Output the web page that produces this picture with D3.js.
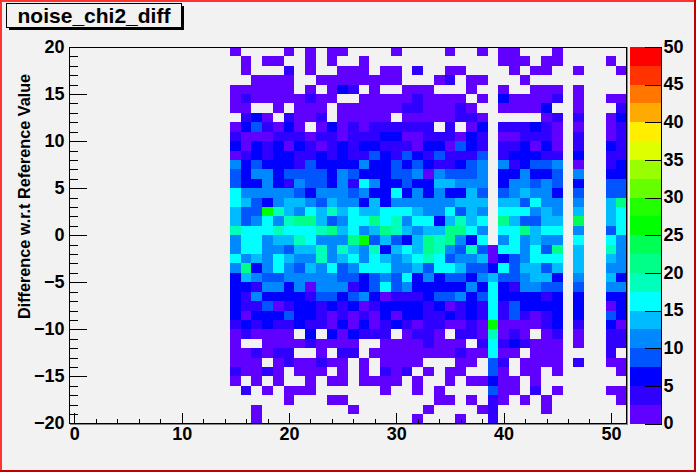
<!DOCTYPE html>
<html><head><meta charset="utf-8">
<script src="https://cdn.jsdelivr.net/npm/d3@7/dist/d3.min.js"></script>
<style>
html,body{margin:0;padding:0;background:#f2f2f2;overflow:hidden}
text{font-family:"Liberation Sans",Arial,sans-serif;font-weight:bold;fill:#000}
</style></head><body><svg id="c" width="696" height="472"></svg>
<script>
const chartTitle = "noise_chi2_diff";
const yTitle = "Difference w.r.t Reference Value";
const xTickLabels = [0,10,20,30,40,50];
const yTickLabels = [-20,-15,-10,-5,0,5,10,15,20];
const zTickLabels = [0,5,10,15,20,25,30,35,40,45,50];
const firstColumn = 15;
const palette = ["#6000ff","#3000ff","#0000ff","#0055ff","#0088ff","#00bbff","#00ffff","#00ffbb","#00ff88","#00ff55","#00ff00","#22ff00","#66ff00","#99ff00","#ddff00","#ffee00","#ffaa00","#ff7700","#ff3300","#ff0000"];
// Bin contents, one array per y bin (top row first), columns 15..51; 0 = empty
const row00=[1,0,0,0,0,1,0,1,0,1,1,0,0,0,0,1,0,0,0,0,1,0,0,1,0,1,1,0,0,0,1,0,0,0,0,0,0];
const row01=[0,1,0,1,1,0,0,1,0,1,0,0,1,0,0,0,0,0,0,0,0,0,0,0,0,1,1,1,0,1,1,0,0,0,0,1,0];
const row02=[0,1,0,0,0,3,0,1,0,0,1,1,1,0,1,1,0,3,0,0,1,1,0,0,0,0,1,0,1,1,0,0,1,0,0,0,1];
const row03=[0,0,1,1,1,1,0,0,1,1,1,1,1,1,1,1,0,0,0,1,3,0,1,1,0,0,0,1,0,0,0,0,0,0,0,0,0];
const row04=[1,1,1,1,1,1,0,1,0,1,6,3,0,1,0,0,1,1,1,0,0,0,1,0,0,1,0,0,1,1,1,0,1,0,0,0,0];
const row05=[1,3,1,1,1,1,1,3,1,1,0,0,1,1,1,1,1,3,1,1,1,1,0,1,0,6,1,1,1,1,3,0,1,0,0,1,1];
const row06=[1,1,0,0,1,0,1,1,1,0,1,1,1,1,1,1,3,3,1,1,1,3,1,0,0,1,1,1,1,6,0,0,1,0,0,0,3];
const row07=[0,3,6,1,0,3,1,1,3,0,1,1,1,1,1,0,1,1,1,1,1,3,3,1,0,0,0,0,0,1,3,0,3,0,0,1,6];
const row08=[1,6,9,3,1,6,1,0,1,6,1,3,1,3,3,3,3,3,3,0,3,0,1,6,0,3,3,3,6,3,1,0,1,0,0,1,3];
const row09=[3,1,1,1,3,3,3,1,3,3,1,3,3,3,6,6,1,1,3,3,3,1,6,3,0,1,1,3,3,3,1,0,3,0,0,1,3];
const row10=[6,1,6,3,6,1,6,3,1,3,6,3,6,6,3,3,3,1,6,6,1,9,6,3,0,3,3,6,1,6,1,0,3,0,0,6,3];
const row11=[1,3,6,3,6,6,3,3,6,3,6,3,3,9,6,3,9,6,3,9,3,3,3,9,0,3,6,6,6,3,3,0,6,0,0,3,3];
const row12=[11,6,9,6,6,6,3,9,6,6,6,6,11,6,6,9,6,9,6,3,3,6,9,11,0,11,3,6,9,9,11,0,1,0,0,3,6];
const row13=[9,6,11,11,6,9,9,9,9,6,11,9,6,6,6,9,9,11,1,11,9,9,9,11,0,6,6,11,6,6,9,0,11,0,0,6,6];
const row14=[9,6,6,11,6,3,11,9,9,6,11,3,16,11,6,6,9,6,6,14,14,11,11,11,0,6,11,11,9,11,9,0,6,0,0,9,9];
const row15=[16,11,11,11,11,11,9,6,11,11,11,9,11,6,6,16,6,11,6,11,6,6,14,9,0,9,11,14,11,11,6,0,9,0,0,9,9];
const row16=[16,14,9,6,11,14,14,11,9,14,11,11,6,14,6,11,11,11,11,11,11,14,14,14,0,14,14,9,16,11,11,0,11,0,0,14,21];
const row17=[14,9,9,26,19,14,11,16,14,19,14,16,14,14,16,16,16,14,11,11,16,9,14,11,0,16,16,16,11,14,11,0,14,0,0,14,16];
const row18=[14,9,11,16,11,19,21,21,14,9,11,16,16,21,16,19,11,16,16,6,14,19,14,16,0,21,14,9,9,14,14,0,24,0,0,14,16];
const row19=[19,16,16,16,19,16,16,16,19,21,14,16,11,14,21,19,14,11,14,14,21,21,16,11,0,16,16,21,14,16,16,0,11,0,0,9,16];
const row20=[11,16,16,11,14,14,19,16,11,11,11,21,26,9,14,9,6,14,21,19,21,11,6,16,0,11,16,11,14,11,11,0,16,0,0,16,11];
const row21=[11,16,16,11,11,9,14,14,19,11,19,14,11,19,6,14,16,14,21,19,11,9,19,9,1,16,16,11,16,9,21,0,14,0,0,19,11];
const row22=[16,11,14,11,16,14,11,11,19,11,14,16,11,16,14,11,14,16,19,16,9,11,11,14,1,6,9,11,16,16,16,0,14,0,0,14,11];
const row23=[11,21,6,11,16,11,9,14,11,16,9,11,16,16,16,11,11,14,9,16,16,14,9,9,6,16,9,14,14,9,14,0,14,0,0,11,11];
const row24=[6,14,11,9,9,11,11,11,11,11,9,9,6,9,11,9,16,6,11,6,9,9,6,11,14,9,9,11,14,14,6,0,11,0,0,14,6];
const row25=[6,6,3,11,11,6,11,1,11,11,11,3,6,9,16,9,11,6,6,6,6,6,11,6,16,6,3,11,11,9,9,0,9,0,0,11,11];
const row26=[6,3,11,6,6,6,6,3,9,9,6,9,11,6,1,3,3,3,6,9,9,11,6,9,16,6,6,6,6,3,6,0,6,0,0,6,6];
const row27=[6,3,3,9,1,3,6,6,3,6,3,6,1,3,6,6,6,6,3,6,1,3,6,3,16,3,9,6,6,6,6,0,6,0,0,1,6];
const row28=[6,1,6,6,6,9,6,6,3,1,3,1,3,1,6,1,6,6,3,3,6,3,6,3,16,3,9,3,1,3,6,0,6,0,0,9,6];
const row29=[3,6,3,6,3,3,6,3,3,1,6,1,6,1,3,6,3,1,3,3,1,1,3,1,26,1,1,1,1,3,6,0,3,0,0,6,1];
const row30=[1,3,1,1,1,1,0,6,0,6,1,6,3,3,3,0,1,3,3,1,0,3,3,1,19,1,3,1,0,1,3,0,1,0,0,3,3];
const row31=[1,0,0,1,1,1,1,3,1,1,1,1,0,0,1,1,1,1,3,1,1,1,0,3,16,3,6,3,1,1,1,0,1,0,0,3,3];
const row32=[1,1,3,1,3,3,0,0,1,0,3,3,0,1,1,1,1,1,1,1,1,3,1,1,16,1,1,0,1,1,1,0,0,0,0,3,0];
const row33=[1,1,1,0,1,3,1,1,3,1,1,0,1,0,1,1,1,1,0,0,0,1,1,0,9,3,0,1,1,1,1,0,3,0,0,1,1];
const row34=[3,1,1,3,1,0,1,1,1,0,1,0,1,0,3,1,3,0,1,0,1,1,0,0,9,1,0,1,1,0,1,0,0,0,0,0,1];
const row35=[1,0,1,0,1,0,0,1,0,1,1,0,1,1,1,1,0,1,0,0,1,0,1,1,6,1,1,0,1,0,0,0,0,0,0,0,0];
const row36=[0,3,0,1,0,1,1,1,0,0,0,0,0,0,1,0,0,1,0,1,0,0,0,0,9,1,1,0,3,0,1,0,0,0,0,1,1];
const row37=[0,0,0,0,0,1,0,0,0,1,1,0,0,0,0,0,0,0,0,1,1,0,1,0,3,1,0,1,0,1,0,0,0,0,0,0,1];
const row38=[0,0,1,0,0,0,0,0,0,0,0,1,0,0,0,0,0,0,1,0,0,0,0,1,3,0,0,0,0,1,0,0,0,0,0,0,0];
const row39=[0,0,1,0,0,0,0,0,0,0,0,0,0,0,0,0,0,1,0,0,0,1,0,0,3,0,0,0,0,0,0,0,0,0,0,0,0];
const rows=[row00,row01,row02,row03,row04,row05,row06,row07,row08,row09,row10,row11,row12,row13,row14,row15,row16,row17,row18,row19,row20,row21,row22,row23,row24,row25,row26,row27,row28,row29,row30,row31,row32,row33,row34,row35,row36,row37,row38,row39];

const W=696,H=472,L=69.5,R=626.5,T=47,B=423.5,zL=629.5,zR=661.5;
const svg=d3.select("#c");
const tickFont=18;
const x=d3.scaleLinear().domain([-0.45,51.45]).range([L,R]);
const y=d3.scaleLinear().domain([-20,20]).range([B,T]);
const z=d3.scaleLinear().domain([0,50]).range([B,T]);
const color=d3.scaleQuantize().domain([0,50]).range(palette);

svg.append("rect").attr("width",W).attr("height",H).attr("fill","#f2f2f2");

// cells
const cells=[];
rows.forEach((r,i)=>r.forEach((v,j)=>{ if(v>0) cells.push({col:firstColumn+j,top:20-i,v}); }));
const px=v=>Math.round(v);
svg.append("g").attr("shape-rendering","crispEdges").selectAll("rect").data(cells).join("rect")
 .attr("x",d=>px(x(d.col-0.5)))
 .attr("width",d=>px(Math.min(x(d.col+0.5),R))-px(x(d.col-0.5)))
 .attr("y",d=>px(y(d.top)))
 .attr("height",d=>px(y(d.top-1))-px(y(d.top)))
 .attr("fill",d=>color(d.v));

// colour bar
const zLevels=d3.range(palette.length);
svg.append("g").attr("shape-rendering","crispEdges").selectAll("rect").data(zLevels).join("rect")
 .attr("x",zL).attr("width",zR-zL)
 .attr("y",i=>px(z((i+1)*2.5)))
 .attr("height",i=>px(z(i*2.5))-px(z((i+1)*2.5)))
 .attr("fill",i=>palette[i]);

function style(g,dy){
  g.select(".domain").remove();
  g.selectAll("line").attr("stroke","#000").attr("shape-rendering","crispEdges");
  g.selectAll("text").style("font-size",tickFont+"px").attr("transform",`translate(0,${dy||0})`);
}
// minor ticks
svg.append("g").attr("transform",`translate(${L},0)`)
 .call(d3.axisLeft(y).tickValues(d3.range(-20,21)).tickSizeInner(-8).tickSizeOuter(0).tickFormat(""))
 .call(style);
svg.append("g").attr("transform",`translate(0,${B})`)
 .call(d3.axisBottom(x).tickValues(d3.range(0,51,2)).tickSizeInner(-5).tickSizeOuter(0).tickFormat(""))
 .call(style);
// major ticks
svg.append("g").attr("transform",`translate(${L},0)`)
 .call(d3.axisLeft(y).tickValues(yTickLabels).tickSizeInner(-17).tickSizeOuter(0).tickPadding(5).tickFormat(d3.format("d")))
 .call(style,-0.6);
svg.append("g").attr("transform",`translate(0,${B})`)
 .call(d3.axisBottom(x).tickValues(xTickLabels).tickSizeInner(-11).tickSizeOuter(0).tickPadding(4).tickFormat(d3.format("d")))
 .call(style);
svg.append("g").attr("transform",`translate(${zR},0)`)
 .call(d3.axisRight(z).tickValues(zTickLabels).tickSizeInner(-17).tickSizeOuter(0).tickPadding(2).tickFormat(d3.format("d")))
 .call(style,-0.6);

// frames
const ln=(a,b,c,d,s)=>svg.append("line").attr("x1",a).attr("y1",b).attr("x2",c).attr("y2",d).attr("stroke",s).attr("shape-rendering","crispEdges");
ln(L,T,R,T,"#000"); ln(L,T,L,B,"#000");
ln(L,B,R,B,"#000"); ln(R,T,R,B,"#000");
ln(L,B+1,R+1,B+1,"#888"); ln(R+1,T,R+1,B+1,"#888");
ln(zR,T,zR,B,"#000");

// axis title
svg.append("text").attr("transform",`translate(30,319) rotate(-90)`).style("font-size","16.2px").text(yTitle);

// title box
svg.append("rect").attr("x",8.5).attr("y",5.5).attr("width",175).attr("height",24).attr("fill","#000").attr("shape-rendering","crispEdges");
svg.append("rect").attr("x",6.5).attr("y",3.5).attr("width",175).attr("height",24).attr("fill","#f2f2f2").attr("stroke","#000").attr("shape-rendering","crispEdges");
svg.append("text").attr("x",94).attr("y",23).attr("text-anchor","middle").style("font-size","21px").text(chartTitle);

// canvas border
svg.append("rect").attr("x",0).attr("y",0).attr("width",W).attr("height",2).attr("fill","#ff3333");
svg.append("rect").attr("x",0).attr("y",0).attr("width",2).attr("height",H).attr("fill","#ff3333");
svg.append("rect").attr("x",W-2).attr("y",0).attr("width",2).attr("height",H).attr("fill","#c00000");
svg.append("rect").attr("x",0).attr("y",H-2).attr("width",W).attr("height",2).attr("fill","#c00000");
</script></body></html>
